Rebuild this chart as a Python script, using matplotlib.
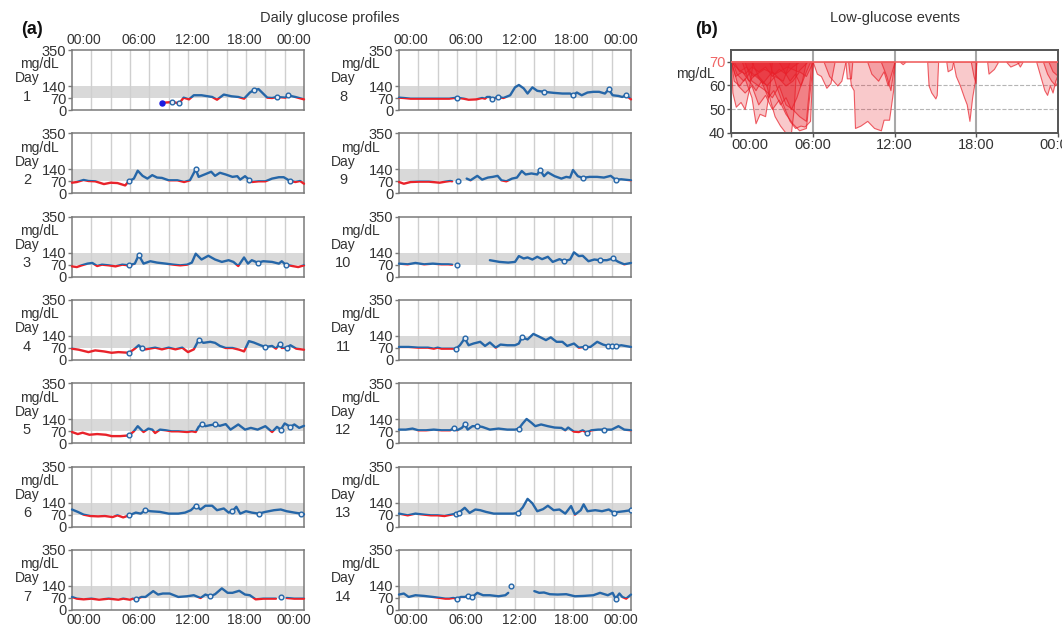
import numpy as np
import matplotlib.pyplot as plt
from matplotlib.patches import Rectangle

plt.rcParams['font.family'] = ['Liberation Sans', 'DejaVu Sans']

nan = np.nan

# ---- daily CGM traces (hour of day, mg/dL) ----
t1 = [9.3, 10.3, 11.1, 11.55, 12.1, 12.6, 13.4, 14.5, 15.0, 15.7, 16.5, 17.2, 17.8, 18.4, 18.8, 19.3, 20.2, 20.7, 21.2, 22.1, 22.3, 23.1, 24.0]
g1 = [42, 46, 40, 72, 62, 86, 86, 76, 60, 90, 80, 76, 66, 102, 116, 122, 72, 70, 76, 72, 86, 76, 62]
t2 = [0, 0.5, 1.2, 1.7, 2.4, 3.3, 4.0, 4.7, 5.5, 5.9, 6.4, 6.8, 7.3, 7.8, 8.3, 8.8, 9.3, 10.0, 10.9, 11.6, 12.2, 12.8, 13.1, 13.8, 14.4, 14.8, 15.3, 15.9, 16.6, 17.1, 17.4, 17.9, 18.3, 18.6, 19.3, 20.0, 20.7, 21.4, 21.9, 22.5, 23.1, 23.6, 24.0]
g2 = [62, 66, 78, 72, 70, 54, 62, 60, 46, 72, 86, 132, 102, 86, 106, 92, 90, 76, 76, 66, 76, 140, 96, 112, 126, 102, 120, 110, 96, 100, 80, 100, 80, 66, 70, 70, 86, 94, 94, 74, 66, 72, 56]
t3 = [0, 0.5, 1.0, 1.6, 2.1, 2.6, 3.1, 3.8, 4.5, 5.2, 5.9, 6.5, 6.9, 7.4, 8.1, 8.8, 9.7, 10.5, 11.2, 11.9, 12.4, 12.8, 13.4, 14.1, 14.8, 15.5, 16.2, 16.7, 17.2, 17.8, 18.2, 18.6, 19.2, 19.8, 20.7, 21.4, 21.7, 22.1, 22.8, 23.4, 24.0]
g3 = [60, 56, 66, 76, 80, 62, 70, 66, 60, 70, 66, 76, 126, 76, 90, 82, 76, 70, 66, 70, 82, 134, 100, 122, 100, 86, 96, 86, 62, 112, 76, 96, 82, 90, 86, 76, 90, 70, 62, 56, 66]
t4 = [0, 0.7, 1.7, 2.4, 3.3, 4.1, 4.8, 5.9, 6.5, 6.9, 7.2, 7.6, 8.6, 9.3, 10.0, 10.7, 11.4, 12.0, 12.6, 13.1, 13.6, 14.3, 14.8, 15.3, 15.9, 16.6, 17.3, 17.8, 18.3, 18.8, 19.5, 20.0, 20.7, 21.1, 21.5, 21.7, 22.2, 22.6, 23.2, 24.0]
g4 = [66, 60, 46, 56, 50, 42, 46, 42, 66, 86, 70, 62, 72, 62, 72, 62, 72, 46, 62, 116, 100, 106, 100, 82, 70, 70, 60, 50, 110, 102, 86, 76, 82, 66, 96, 70, 72, 86, 66, 60]
t5 = [0, 0.6, 1.1, 1.8, 2.6, 3.5, 4.1, 5.0, 5.9, 6.4, 6.8, 7.4, 7.9, 8.3, 8.6, 9.1, 9.7, 10.3, 11.0, 11.9, 12.4, 12.8, 13.1, 13.4, 13.8, 14.3, 14.8, 15.3, 15.9, 16.4, 17.2, 17.9, 18.5, 19.2, 20.0, 20.7, 21.2, 21.6, 22.0, 22.6, 23.0, 23.5, 24.0]
g5 = [66, 54, 62, 50, 54, 50, 42, 42, 46, 70, 100, 66, 86, 80, 60, 80, 76, 70, 70, 66, 70, 66, 96, 112, 100, 106, 110, 102, 112, 80, 110, 80, 90, 80, 100, 66, 96, 80, 116, 96, 110, 90, 102]
t6 = [0, 0.6, 1.2, 1.9, 2.7, 3.4, 4.2, 4.7, 5.3, 5.9, 6.6, 7.1, 7.6, 8.1, 9.1, 10.0, 11.0, 11.7, 12.3, 12.8, 13.3, 13.8, 14.5, 15.0, 15.7, 16.2, 16.6, 17.0, 17.4, 18.0, 18.6, 19.3, 20.0, 20.9, 21.6, 22.2, 23.0, 23.7, 24.0]
g6 = [100, 86, 70, 62, 60, 62, 56, 66, 54, 66, 82, 76, 96, 90, 86, 76, 76, 82, 96, 122, 100, 122, 122, 96, 106, 82, 90, 116, 76, 90, 82, 76, 86, 96, 100, 90, 82, 76, 72]
t7 = [0, 0.5, 1.2, 2.0, 2.8, 3.8, 4.8, 5.3, 6.0, 6.3, 6.6, 7.2, 7.6, 8.4, 8.9, 9.4, 10.1, 11.0, 11.9, 12.6, 13.3, 13.8, 14.3, 14.8, 15.5, 16.1, 16.6, 17.3, 17.9, 18.4, 19.0, 19.8, 20.7, 21.1, 21.6, 22.2, 23.0, 24.0]
g7 = [76, 66, 62, 66, 60, 66, 60, 66, 60, 66, 62, 76, 76, 110, 90, 96, 96, 76, 80, 86, 70, 90, 80, 92, 126, 100, 100, 112, 90, 86, 62, 66, 66, 66, nan, 70, 66, 66]
t8 = [0, 0.5, 1.2, 2.1, 3.1, 4.2, 5.2, 6.0, 6.7, 7.2, 8.0, 8.6, 8.9, 9.1, 9.4, 9.6, 10.2, 10.8, 11.5, 12.0, 12.4, 12.9, 13.3, 13.8, 14.3, 15.0, 16.0, 16.9, 17.7, 18.0, 18.4, 18.9, 19.5, 20.1, 20.7, 21.3, 21.7, 22.1, 22.7, 23.1, 23.5, 24.0]
g8 = [72, 70, 66, 66, 66, 66, 66, 72, 66, 60, 62, 70, 66, 76, 76, 62, 76, 70, 86, 132, 146, 126, 96, 132, 112, 106, 100, 96, 96, 86, 102, 86, 102, 106, 106, 96, 120, 86, 82, 76, 86, 62]
t9 = [0, 0.5, 1.2, 2.1, 3.1, 4.2, 4.8, 5.3, 5.5, 6.2, 7.0, 7.4, 8.1, 8.6, 9.2, 9.7, 10.2, 10.6, 11.1, 11.7, 12.2, 12.7, 13.1, 13.7, 14.3, 14.6, 15.0, 15.4, 16.1, 16.8, 17.3, 17.7, 18.0, 18.5, 19.0, 19.7, 20.5, 21.2, 21.9, 22.4, 23.0, 24.0]
g9 = [66, 56, 66, 68, 68, 62, 68, 72, 70, nan, 86, 76, 102, 80, 92, 96, 102, 76, 70, 86, 92, 130, 110, 116, 110, 136, 100, 122, 100, 86, 96, 92, 136, 100, 90, 96, 96, 92, 102, 80, 82, 76]
t10 = [0, 0.9, 1.7, 2.6, 3.5, 4.4, 5.1, 5.5, 7.0, 9.4, 10.4, 11.3, 12.0, 12.4, 12.9, 13.3, 13.8, 14.3, 14.8, 15.4, 15.9, 16.6, 17.1, 17.7, 18.1, 18.6, 19.0, 19.6, 20.2, 20.8, 21.5, 22.1, 22.7, 23.3, 24.0]
g10 = [76, 72, 80, 72, 76, 72, 72, 70, nan, 96, 86, 82, 86, 120, 106, 112, 100, 116, 102, 116, 86, 102, 90, 100, 142, 120, 122, 90, 100, 96, 96, 106, 86, 72, 80]
t11 = [0, 1.0, 2.0, 3.0, 3.6, 4.0, 4.4, 5.3, 5.9, 6.3, 6.8, 7.2, 7.7, 8.4, 8.9, 9.4, 10.0, 10.5, 11.2, 12.0, 12.4, 12.7, 13.3, 13.9, 14.5, 15.2, 15.7, 16.3, 16.9, 17.4, 18.1, 18.6, 19.2, 19.8, 20.5, 21.1, 21.6, 22.0, 22.4, 23.0, 24.0]
g11 = [76, 76, 72, 72, 66, 72, 66, 66, 66, 86, 126, 86, 96, 106, 82, 102, 72, 90, 86, 86, 96, 132, 120, 152, 136, 116, 132, 106, 106, 82, 96, 72, 76, 76, 106, 90, 82, 82, 80, 86, 76]
t12 = [0, 0.7, 1.4, 2.0, 2.8, 3.6, 4.4, 5.3, 5.7, 6.0, 6.5, 6.8, 7.1, 7.6, 8.1, 8.6, 9.4, 10.3, 11.2, 12.0, 12.4, 12.8, 13.2, 13.7, 14.1, 14.7, 15.4, 16.1, 16.8, 17.2, 17.5, 18.1, 18.6, 19.0, 19.4, 19.9, 20.6, 21.2, 22.0, 22.7, 23.3, 24.0]
g12 = [80, 80, 86, 76, 76, 80, 76, 76, 90, 76, 90, 110, 80, 100, 100, 96, 80, 86, 80, 80, 86, 116, 142, 120, 100, 110, 100, 92, 90, 76, 92, 68, 66, 76, 62, 76, 80, 80, 80, 100, 80, 76]
t13 = [0, 0.9, 1.7, 2.6, 3.3, 4.0, 4.7, 5.4, 5.9, 6.2, 6.8, 7.3, 7.9, 8.4, 9.0, 9.8, 10.8, 11.8, 12.3, 12.8, 13.3, 13.8, 14.3, 14.9, 15.4, 16.0, 16.6, 17.2, 17.8, 18.2, 18.8, 19.1, 19.5, 20.3, 21.0, 21.7, 22.2, 22.7, 23.3, 24.0]
g13 = [76, 66, 76, 70, 66, 66, 62, 70, 76, 82, 110, 80, 100, 96, 86, 76, 76, 76, 80, 112, 162, 136, 90, 102, 122, 96, 100, 76, 120, 70, 96, 130, 90, 96, 90, 100, 82, 86, 90, 96]
t14 = [0, 0.5, 1.0, 1.7, 2.6, 3.5, 4.3, 4.8, 5.2, 5.6, 6.0, 6.4, 6.8, 7.1, 7.6, 8.1, 8.7, 9.4, 10.3, 11.0, 11.3, 12.5, 14.0, 14.5, 15.0, 15.6, 16.4, 17.3, 18.2, 19.1, 20.1, 20.8, 21.6, 22.1, 22.4, 22.8, 23.1, 23.5, 24.0]
g14 = [90, 96, 76, 86, 82, 76, 70, 66, 66, 70, 66, 76, 76, 80, 76, 100, 86, 86, 80, 86, 100, nan, 110, 100, 102, 92, 90, 92, 80, 82, 86, 100, 86, 100, 66, 96, 76, 66, 90]

# fingerstick calibration points (open circles)
ct1 = [10.3, 11.1, 18.8, 21.2, 22.3]
cg1 = [46, 40, 116, 76, 86]
ct2 = [5.9, 12.8, 18.3, 22.5]
cg2 = [72, 140, 80, 74]
ct3 = [5.9, 6.9, 19.2, 22.1]
cg3 = [66, 126, 82, 70]
ct4 = [5.9, 7.2, 13.1, 20.0, 21.5, 22.2]
cg4 = [42, 70, 116, 76, 96, 72]
ct5 = [5.9, 13.4, 14.8, 21.6, 22.6]
cg5 = [46, 112, 110, 80, 96]
ct6 = [5.9, 7.6, 12.8, 16.6, 19.3, 23.7]
cg6 = [66, 96, 122, 90, 76, 76]
ct7 = [6.6, 14.3, 21.6]
cg7 = [62, 80, 76]
ct8 = [6.0, 9.6, 10.2, 15.0, 18.0, 21.7, 23.5]
cg8 = [72, 62, 76, 106, 86, 120, 86]
ct9 = [6.1, 14.6, 19.0, 22.4]
cg9 = [70, 136, 90, 80]
ct10 = [6.0, 17.1, 20.8, 22.1]
cg10 = [70, 90, 96, 106]
ct11 = [5.9, 6.8, 12.7, 19.2, 21.6, 22.0, 22.4]
cg11 = [66, 126, 132, 76, 82, 82, 80]
ct12 = [5.7, 6.8, 8.1, 12.4, 19.4, 21.2]
cg12 = [90, 110, 100, 86, 62, 80]
ct13 = [5.9, 6.2, 12.3, 22.2, 24.0]
cg13 = [76, 82, 80, 82, 96]
ct14 = [6.0, 7.1, 7.6, 11.6, 22.4]
cg14 = [66, 80, 76, 140, 66]

first_t, first_g = [9.3], [42]

# ---- low-glucose events (hour, mg/dL) ----
event_t = [
    [0.0, 0.1, 0.35, 0.7, 1.0, 1.3, 1.6],
    [0.0, 0.2, 0.6, 1.0, 1.5, 1.8, 2.1, 2.5, 2.8, 3.0],
    [1.5, 2.0, 2.6, 2.9, 3.2, 3.6, 4.0, 4.4, 4.6, 4.8],
    [2.8, 3.3, 3.8, 4.3, 4.7, 5.1, 5.4, 5.8, 6.0],
    [0, 0.3, 0.8, 1.3, 1.8, 2.3, 3.0, 3.5, 4.0, 4.5, 5.0, 5.5, 6.0],
    [0, 0.5, 1.0, 1.5, 2.0, 2.5, 3.0, 3.5, 4.0, 4.5, 5.0],
    [0.8, 1.2, 1.8, 2.2, 2.7, 3.1, 3.6, 4.0, 4.4, 4.8, 5.2, 5.5],
    [3.5, 3.9, 4.3, 4.7, 5.1, 5.5, 5.8],
    [0.2, 0.6, 1.1, 1.6, 2.4, 3.2, 4.1, 4.9, 5.6],
    [0, 0.5, 1.0, 1.5, 2.0, 2.5, 3.0, 3.5, 4.0, 4.5, 5.0, 5.5, 6.0],
    [1.0, 1.5, 2.0, 2.5, 3.0, 3.5, 4.0, 4.5, 5.0, 5.5, 5.9],
    [0.1, 0.4, 0.9, 1.4, 2.0, 2.6, 3.2, 3.8, 4.3],
    [6.0, 6.3, 6.6, 7.0, 7.3, 7.6],
    [6.8, 7.2, 7.8, 8.1, 8.4],
    [8.4, 8.5, 8.8, 8.9],
    [8.6, 8.8, 9.0, 9.1, 9.5, 10.0, 10.5, 11.0, 11.2, 11.6, 11.9, 12.0],
    [10.0, 10.3, 10.8, 11.2, 11.5, 11.8, 12.0],
    [11.0, 11.4, 11.7, 12.0],
    [12.4, 12.6, 12.8],
    [14.4, 14.5, 14.7, 15.0, 15.1, 15.2],
    [15.8, 15.9, 16.2, 16.3],
    [16.3, 16.5, 16.8, 17.1, 17.3, 17.5, 17.7, 17.9, 18.0],
    [17.6, 17.8, 17.95, 18.0],
    [18.8, 18.9, 19.3, 19.6],
    [20.2, 20.5, 20.9, 21.2],
    [21.0, 21.2, 21.4],
    [22.4, 22.7, 23.0, 23.2, 23.4, 23.6, 23.8, 24.0],
    [22.9, 23.2, 23.5, 23.8, 24.0],
    [23.3, 23.6, 24.0],
]
event_g = [
    [70, 57, 51, 53, 50, 58, 70],
    [70, 62, 60, 63, 55, 44, 48, 47, 58, 70],
    [70, 64, 60, 53, 47, 43, 40, 40, 50, 70],
    [70, 60, 52, 45, 42, 43, 42.6, 45, 70],
    [70, 64, 66, 62, 65, 61, 66, 63, 60, 62, 66, 64, 70],
    [70, 67, 65, 68, 66, 68, 64, 67, 65, 68, 70],
    [70, 63, 58, 62, 55, 58, 52, 55, 50, 55, 62, 70],
    [70, 66, 62, 65, 60, 66, 70],
    [70, 66, 68, 64, 67, 65, 68, 66, 70],
    [70, 60, 57, 60, 52, 56, 50, 54, 48, 44, 41, 42, 70],
    [70, 62, 60, 58, 55, 60, 52, 50, 47, 45, 70],
    [70, 65, 62, 66, 63, 60, 64, 62, 70],
    [70, 65, 64, 59, 61, 70],
    [70, 64, 60, 62, 70],
    [70, 63, 63, 70],
    [70, 60, 58, 42, 43, 45, 42, 41, 45.5, 45.5, 58, 70],
    [70, 65, 62, 66, 60, 66, 70],
    [70, 64, 58, 70],
    [70, 69, 70],
    [70, 60, 57, 54.5, 56, 70],
    [70, 66, 67, 70],
    [70, 64, 60, 55, 52, 45, 55, 62, 70],
    [70, 64, 61, 70],
    [70, 65, 67, 70],
    [70, 68, 69, 70],
    [70, 68, 70],
    [70, 64, 58, 56, 60, 57, 62, 65],
    [70, 65, 62, 60, 62],
    [70, 66, 64],
]

hour_ticks = [0, 6, 12, 18, 24]
hour_labels = ['00:00', '06:00', '12:00', '18:00', '00:00']
# the daily panels print their hour labels spread evenly inside the frame
label_pos = [1.2, 6.9, 12.5, 17.8, 23.0]

days = [(t1, g1, ct1, cg1), (t2, g2, ct2, cg2), (t3, g3, ct3, cg3), (t4, g4, ct4, cg4),
        (t5, g5, ct5, cg5), (t6, g6, ct6, cg6), (t7, g7, ct7, cg7), (t8, g8, ct8, cg8),
        (t9, g9, ct9, cg9), (t10, g10, ct10, cg10), (t11, g11, ct11, cg11),
        (t12, g12, ct12, cg12), (t13, g13, ct13, cg13), (t14, g14, ct14, cg14)]

BLUE = '#2566a8'
RED = '#e8232b'
TXT = '#333333'
SPINE = '#7a7a7a'

W, H = 1062, 625
fig = plt.figure(figsize=(W / 100, H / 100), dpi=100)


def px_axes(x0, y0, x1, y1):
    return fig.add_axes([x0 / W, 1 - y1 / H, (x1 - x0) / W, (y1 - y0) / H])


for i, (t, g, ct, cg) in enumerate(days):
    col, row = divmod(i, 7)
    x0 = 72 if col == 0 else 399
    y0 = 50 + 83.33 * row
    ax = px_axes(x0, y0, x0 + 232, y0 + 60)
    ax.set_xlim(0, 24)
    ax.set_ylim(0, 350)
    ax.axhspan(70, 140, color='#d9d9d9', lw=0, zorder=0)
    for h in range(2, 24, 2):
        ax.axvline(h, color='#cfcfcf', lw=1, zorder=1)

    blue, = ax.plot(t, g, color=BLUE, lw=1.7, zorder=3, solid_capstyle='round')
    blue.set_clip_path(Rectangle((-1, 70), 26, 400, transform=ax.transData))
    red, = ax.plot(t, g, color=RED, lw=1.7, zorder=3, solid_capstyle='round')
    red.set_clip_path(Rectangle((-1, -100), 26, 170, transform=ax.transData))
    ax.plot(ct, cg, 'o', mfc='#e8eef6', mec=BLUE, ms=3.4, mew=1, zorder=4)
    if i == 0:
        ax.plot(first_t, first_g, 'o', color='#1a1ae0', ms=3.6, zorder=5)

    ax.set_yticks([0, 70, 140, 350])
    ax.tick_params(axis='y', length=3, width=1, color=SPINE, pad=1, labelsize=10.5, labelcolor=TXT)
    ax.set_xticks(label_pos)
    ax.tick_params(axis='x', length=0, pad=2, labelsize=10, labelcolor=TXT)
    if row == 0:
        ax.xaxis.tick_top()
        ax.set_xticklabels(hour_labels)
    elif row == 6:
        ax.set_xticklabels(hour_labels)
    else:
        ax.set_xticklabels([])
    for s in ax.spines.values():
        s.set_color(SPINE)
        s.set_linewidth(1.1)

    off_mg = -0.142 if col == 0 else -0.168
    off_day = -0.194 if col == 0 else -0.24
    ax.text(off_mg, 0.76, 'mg/dL', transform=ax.transAxes, ha='center', va='center', fontsize=10, color=TXT)
    ax.text(off_day, 0.53, 'Day', transform=ax.transAxes, ha='center', va='center', fontsize=10, color=TXT)
    ax.text(off_day, 0.22, str(i + 1), transform=ax.transAxes, ha='center', va='center', fontsize=10.5, color=TXT)

# ---- panel (b) ----
axb = px_axes(731, 50, 1058, 132.7)
axb.set_xlim(0, 24)
axb.set_ylim(40, 75)
for v in (50, 60):
    axb.axhline(v, color='#b5b5b5', lw=0.8, ls='--', zorder=0)
for h in (6, 12, 18):
    axb.axvline(h, color='#a8a8a8', lw=1.5, zorder=0)
for et, eg in zip(event_t, event_g):
    axb.fill_between(et, eg, 70, facecolor=(0.91, 0.12, 0.16, 0.24),
                     edgecolor=(0.91, 0.12, 0.16, 0.7), lw=0.8, zorder=2)
axb.axhline(70, color='#f06464', lw=1.2, zorder=3)
axb.set_yticks([40, 50, 60, 70])
axb.set_xticks(hour_ticks)
axb.set_xticklabels(hour_labels)
axb.tick_params(length=3, width=1, color='#555555', pad=1, labelsize=10.5, labelcolor=TXT)
axb.get_xticklabels()[0].set_horizontalalignment('left')
axb.get_yticklabels()[-1].set_color('#f06464')
for s in axb.spines.values():
    s.set_color('#555555')
    s.set_linewidth(1.4)
axb.text(-0.11, 65.0, 'mg/dL', transform=axb.get_yaxis_transform(), ha='center', va='center',
         fontsize=10, color=TXT)

fig.text(330 / W, 1 - 18 / H, 'Daily glucose profiles', ha='center', va='center', fontsize=10.5, color=TXT)
fig.text(895 / W, 1 - 18 / H, 'Low-glucose events', ha='center', va='center', fontsize=10.5, color=TXT)
fig.text(32 / W, 1 - 30 / H, '(a)', ha='center', va='center', fontsize=13, fontweight='bold', color='#111111')
fig.text(706 / W, 1 - 30 / H, '(b)', ha='center', va='center', fontsize=13, fontweight='bold', color='#111111')

fig.savefig('out.png', dpi=100)
